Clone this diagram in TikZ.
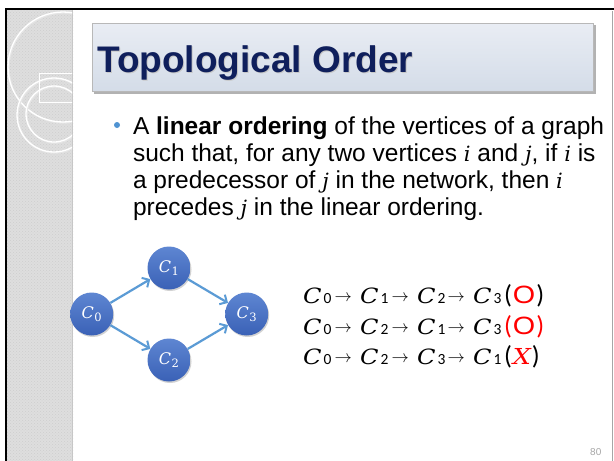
\documentclass[tikz,border=0pt]{standalone}
\usepackage{fontspec}
\usepackage{graphicx}
\setmainfont{Liberation Sans}
\newfontfamily\carlito{Carlito}
\newfontfamily\dvs{DejaVu Serif}
\usetikzlibrary{patterns,shadows,arrows.meta}
\definecolor{titlenavy}{HTML}{0F1F5C}
\definecolor{stripgrey}{HTML}{DEDEDE}
\definecolor{stripdot}{HTML}{CDCDCD}
\definecolor{boxtop}{HTML}{E9EDF4}
\definecolor{boxbot}{HTML}{D4DCE8}
\definecolor{nodetop}{HTML}{5E86D2}
\definecolor{nodebot}{HTML}{3A61B6}
\definecolor{edgeblue}{HTML}{5B9BD5}
\definecolor{bulletblue}{HTML}{4F93D2}
\newcommand\mvar[1]{{\dvs\itshape #1}}
\newcommand\vlabel[1]{\mvar{C}\kern0.5pt\raisebox{-3.5pt}{\dvs\fontsize{11.5}{11.5}\selectfont #1}}
\tikzset{
  vert/.style={circle, minimum size=43pt, inner sep=0pt, top color=nodetop, bottom color=nodebot,
    text=white, font=\fontsize{16}{16}\selectfont,
    drop shadow={opacity=0.35, shadow xshift=1pt, shadow yshift=-1.5pt}},
  edge/.style={draw=edgeblue, line width=2.2pt, -{Straight Barb[length=5.5pt,width=11pt,line width=2pt]}},
  bodytxt/.style={anchor=base west, inner sep=0pt, outer sep=0pt, font=\fontsize{24.5}{27}\selectfont},
  ordtxt/.style={anchor=base west, inner sep=0pt, outer sep=0pt},
  ringline/.style={draw=white, line width=1.3pt},
}
\newcommand\ordrow[7]{%
  \foreach \xx/\dd/\k in {303/#3/1,360/#4/2,417/#5/3,473/#6/4}{
    \node[ordtxt] (#1C\k) at (\xx,#2) {\fontsize{21}{21}\selectfont\scalebox{1.15}[1]{\mvar{C}}};
    \node[ordtxt] (#1D\k) at (\xx+20.5,#2) {\carlito\fontsize{15.5}{15.5}\selectfont \dd};
  }
  \foreach \xx/\k in {334.5/1,391.5/2,447.5/3}{
    \node[ordtxt] (#1A\k) at (\xx,#2) {\fontsize{18.5}{18.5}\selectfont\raisebox{1.5pt}{$\rightarrow$}};
  }
  \node[ordtxt] (#1T) at (504,#2) {#7};
}
\newcommand\pfont{\carlito\fontsize{26}{26}\selectfont}
\newcommand\bigO{{\rmfamily\fontsize{25}{25}\selectfont\scalebox{1.15}[1]{O}}}
\begin{document}
\begin{tikzpicture}[x=1pt,y=-1pt]
\useasboundingbox (0,0) rectangle (614,461);
\fill[white] (0,0) rectangle (614,461);
% left strip
\fill[stripgrey] (7,9) rectangle (73,461);
\fill[pattern=crosshatch dots, pattern color=stripdot] (7,9) rectangle (73,461);
\fill[black!22] (71.5,9) rectangle (73,461);
\begin{scope}
  \clip (7,9) rectangle (72,461);
  \draw[black!10, line width=1.8pt] (63.8,67.8) circle[radius=55pt];
  \draw[ringline] (63,67) circle[radius=55pt];
  \draw[black!10, line width=1.8pt] (54.8,115.8) circle[radius=37pt];
  \draw[ringline] (54,115) circle[radius=37pt];
  \draw[black!10, line width=1.8pt] (54.8,114.8) circle[radius=28pt];
  \draw[ringline] (54,114) circle[radius=28pt];
  \draw[ringline, line width=1pt] (39,73) rectangle (73,102);
\end{scope}
% frame
\draw[black, line width=2.5pt] (6,461) -- (6,9) -- (614,9);
\draw[black!35, line width=1pt] (612.5,11) -- (612.5,461);
% title box
\fill[black!30] (94,25) rectangle (596,94);
\shade[top color=boxtop, bottom color=boxbot, draw=black!28, line width=1pt] (92,23) rectangle (593,91);
\node[anchor=base west, inner sep=0pt, text=black!22, font=\fontsize{37}{40}\selectfont\bfseries] (tshadow) at (98,73) {Topological Order};
\node[anchor=base west, inner sep=0pt, text=titlenavy, font=\fontsize{37}{40}\selectfont\bfseries] (title) at (97,72) {Topological Order};
% bullet text
\fill[bulletblue] (117,125) circle[radius=3pt];
\node[bodytxt] (l1) at (133,134) {A \textbf{linear ordering} of the vertices of a graph};
\node[bodytxt] (l2) at (133,161) {such that, for any two vertices {\fontsize{21}{27}\selectfont\mvar{i}} and {\fontsize{21}{27}\selectfont\mvar{j}}, if {\fontsize{21}{27}\selectfont\mvar{i}} is};
\node[bodytxt] (l3) at (133,188) {a predecessor of {\fontsize{21}{27}\selectfont\mvar{j}} in the network, then {\fontsize{21}{27}\selectfont\mvar{i}}};
\node[bodytxt] (l4) at (133,215) {precedes {\fontsize{21}{27}\selectfont\mvar{j}} in the linear ordering.};
% graph
\node[vert] (c0) at (91.7,314) {\vlabel{0}};
\node[vert] (c1) at (169,268) {\vlabel{1}};
\node[vert] (c2) at (169,360) {\vlabel{2}};
\node[vert] (c3) at (246.7,314) {\vlabel{3}};
\draw[edge] (c0) -- (c1);
\draw[edge] (c1) -- (c3);
\draw[edge] (c0) -- (c2);
\draw[edge] (c2) -- (c3);
% orderings
\ordrow{ra}{303}{0}{1}{2}{3}{\pfont(\kern1pt\textcolor{red}{\bigO}\kern1pt)}
\ordrow{rb}{334}{0}{2}{1}{3}{\color{red}\pfont(\kern1pt\bigO\kern1pt)}
\ordrow{rc}{364}{0}{2}{3}{1}{\pfont(\kern1pt\textcolor{red}{\fontsize{22}{22}\selectfont\scalebox{1.15}[1]{\mvar{X}}}\kern1pt)}
% page number
\node[anchor=base west, inner sep=0pt, text=black!35, font=\fontsize{10}{10}\selectfont] (pg) at (590,455) {80};
\end{tikzpicture}
\end{document}
